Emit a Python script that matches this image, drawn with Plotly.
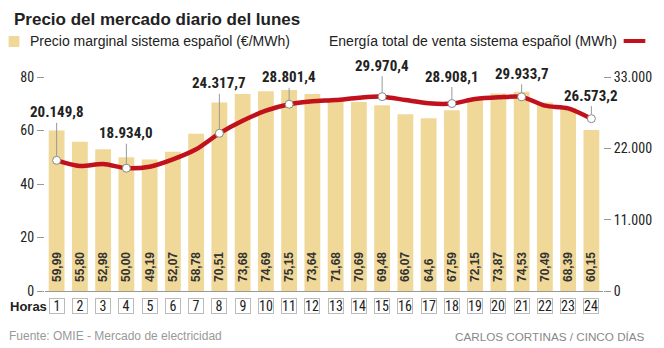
import plotly.graph_objects as go

hours = list(range(1, 25))
price_labels = ["59,99", "55,80", "52,98", "50,00", "49,19", "52,07", "58,78", "70,51",
                "73,68", "74,69", "75,15", "73,64", "71,68", "70,69", "69,48", "66,07",
                "64,6", "67,59", "72,15", "73,87", "74,53", "70,49", "68,39", "60,15"]
prices = [float(s.replace(",", ".")) for s in price_labels]
energy = [20149.8, 19275, 19580, 18934.0, 19170, 20300, 21850, 24317.7,
          26260, 27800, 28801.4, 29250, 29450, 29800, 29970.4, 29450,
          28950, 28908.1, 29600, 29860, 29933.7, 28580, 28170, 26573.2]
marked_hours = [1, 4, 8, 11, 15, 18, 21, 24]
label_offsets = [48, 35, 50, 27, 31, 27, 23, 23]
left_ticks = [0, 20, 40, 60, 80]
right_ticks = [0, 11000, 22000, 33000]
right_ticktext = ["0", "11.000", "22.000", "33.000"]

COND = "Roboto Condensed, Roboto, sans-serif"
REG = "Liberation Sans, Arial, sans-serif"
BAR = "#f0d899"
RED = "#c0111c"
GRAY = "#999999"
DARK = "#222222"

W, H = 664, 348
ML, MR, MT, MB = 45, 52, 77, 57
PW, PH = W - ML - MR, H - MT - MB

def px(x):
    return (x - ML) / PW

def py(y):
    return (H - MB - y) / PH

def fmt_es(v):
    s = f"{v:,.1f}"
    return s.replace(",", "X").replace(".", ",").replace("X", ".")

fig = go.Figure()
fig.add_trace(go.Bar(
    x=hours, y=prices, width=0.68, marker=dict(color=BAR, line=dict(width=0)),
    text=price_labels, texttemplate="\u2002%{text}", textposition="inside",
    insidetextanchor="start", textangle=-90, constraintext="none",
    textfont=dict(family=REG, size=12, color="#333333", weight="bold"),
    hoverinfo="skip", yaxis="y"))
fig.add_trace(go.Scatter(
    x=hours, y=energy, mode="lines", line=dict(color=RED, width=4.5, shape="spline", smoothing=0.8),
    yaxis="y2", hoverinfo="skip", cliponaxis=False))
mvals = [energy[h - 1] for h in marked_hours]
fig.add_trace(go.Scatter(
    x=marked_hours, y=mvals, mode="markers", yaxis="y2", cliponaxis=False,
    marker=dict(size=8, color="white", line=dict(color="#888888", width=1)), hoverinfo="skip"))

annotations = []
for h, v, off in zip(marked_hours, mvals, label_offsets):
    annotations.append(dict(
        x=h, y=v, xref="x", yref="y2", text=fmt_es(v), showarrow=True,
        arrowhead=0, arrowwidth=1, arrowcolor="#999999", ax=0, ay=-off, standoff=4,
        font=dict(family=COND, size=15, color=DARK, weight="bold")))

# hour boxes
for h in hours:
    annotations.append(dict(
        x=h, y=py(306.3), xref="x", yref="paper", text=str(h), showarrow=False,
        xanchor="center", yanchor="middle",
        width=14, height=14, borderpad=0, borderwidth=1, bordercolor="#bbbbbb",
        bgcolor="white", font=dict(family=COND, size=14, color=DARK)))
annotations.append(dict(x=px(7), y=py(306.3), xref="paper", yref="paper", text="<b>Horas</b>",
                        showarrow=False, xanchor="left", yanchor="middle",
                        font=dict(family=REG, size=13, color=DARK)))

annotations += [
    dict(x=px(11), y=py(19), xref="paper", yref="paper", text="<b>Precio del mercado diario del lunes</b>",
         showarrow=False, xanchor="left", yanchor="middle", font=dict(family=REG, size=17, color=DARK)),
    dict(x=px(28), y=py(41.5), xref="paper", yref="paper", text="Precio marginal sistema español (€/MWh)",
         showarrow=False, xanchor="left", yanchor="middle", font=dict(family=REG, size=14, color=DARK)),
    dict(x=px(628), y=py(41), xref="paper", yref="paper", text="Energía total de venta sistema español (MWh)",
         showarrow=False, xanchor="right", yanchor="middle", font=dict(family=REG, size=14, color=DARK)),
    dict(x=px(6), y=py(336), xref="paper", yref="paper", text="Fuente: OMIE - Mercado de electricidad",
         showarrow=False, xanchor="left", yanchor="middle", font=dict(family=REG, size=12, color="#999999")),
    dict(x=px(657), y=py(336), xref="paper", yref="paper", text="CARLOS CORTINAS / CINCO DÍAS",
         showarrow=False, xanchor="right", yanchor="middle", font=dict(family=REG, size=11.7, color="#888888")),
]

shapes = [
    dict(type="rect", xref="paper", yref="paper", x0=px(8), x1=px(19), y0=py(47), y1=py(36),
         fillcolor=BAR, line=dict(width=0)),
    dict(type="line", xref="paper", yref="paper", x0=px(633), x1=px(655), y0=py(41), y1=py(41),
         line=dict(color=RED, width=4)),
]

fig.update_layout(
    width=W, height=H, margin=dict(l=ML, r=MR, t=MT, b=MB),
    paper_bgcolor="white", plot_bgcolor="white", showlegend=False,
    separators=",.",
    xaxis=dict(range=[0.5, 24.5], showticklabels=False, ticks="", showgrid=False, zeroline=False,
               showline=True, linecolor=GRAY, linewidth=1, fixedrange=True),
    yaxis=dict(range=[0, 80], tickvals=left_ticks, ticks="outside", ticklen=7, tickcolor=GRAY,
               showgrid=False, zeroline=False, showline=False,
               tickfont=dict(family=COND, size=14, color=DARK)),
    yaxis2=dict(range=[0, 33000], overlaying="y", side="right", tickvals=right_ticks,
                ticktext=right_ticktext, ticks="outside", ticklen=7, tickcolor=GRAY,
                showgrid=False, zeroline=False, showline=False,
                tickfont=dict(family=COND, size=14, color=DARK)),
    annotations=annotations, shapes=shapes,
)
fig.write_html("out.html")
